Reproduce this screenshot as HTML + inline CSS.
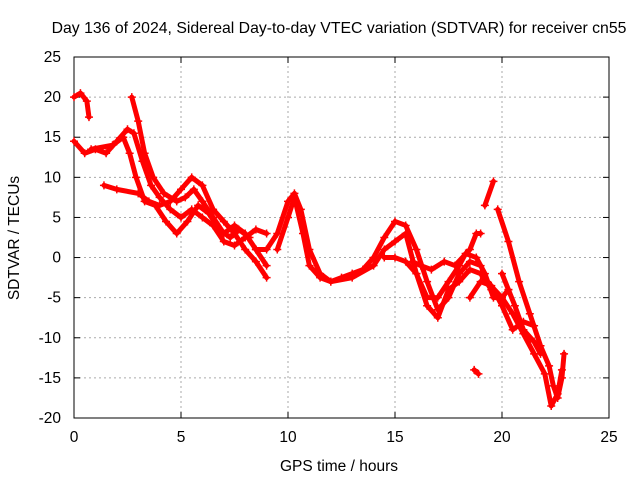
<!DOCTYPE html>
<html><head><meta charset="utf-8"><style>
body{margin:0;background:#fff;}
svg text{font-family:"Liberation Sans",sans-serif;font-size:15.5px;fill:#000;}
</style></head><body>
<svg width="640" height="480" xmlns="http://www.w3.org/2000/svg">
<rect width="640" height="480" fill="#fff"/>
<text x="339" y="33" text-anchor="middle" style="font-size:15.8px">Day 136 of 2024, Sidereal Day-to-day VTEC variation (SDTVAR) for receiver cn55</text>
<g id="grid"></g>
<g id="axes"></g>
<g id="series"></g>
<text x="339" y="471" text-anchor="middle">GPS time / hours</text>
<text transform="translate(19,238) rotate(-90)" text-anchor="middle">SDTVAR / TECUs</text>
</svg>
<script>
const xTicks=[0,5,10,15,20,25];
const yTicks=[-20,-15,-10,-5,0,5,10,15,20,25];
const trackA=[[0,14.5],[0.5,13],[1,13.5],[1.5,13],[2,14.5],[2.5,16],[2.8,15.5],[3.2,12],[3.6,9],[4,7.5],[4.5,6],[5,5],[5.5,6],[6,5],[6.5,4],[7,2],[7.5,1.5],[8,2.5],[8.5,3.5],[9,3]];
const trackB=[[1.4,9],[2,8.5],[3,8],[3.5,7],[4,6.5],[4.5,7],[5,8.5],[5.5,10],[6,9],[6.5,6],[7,4.5],[7.5,3],[8,1],[8.5,-0.5],[9,-2.5]];
const trackC=[[2.7,20],[3,17],[3.3,13],[3.7,10],[4.2,8],[4.8,7],[5.2,7.5],[5.6,8.5],[6,7],[6.5,5],[7,3],[7.5,4],[8,3],[8.5,1],[9,-1]];
const trackD=[[0.8,13.5],[1.8,14],[2.3,15],[2.6,13],[2.9,10],[3.3,7],[3.8,6.5],[4.3,4.5],[4.8,3],[5.3,4.5],[5.8,6.5],[6.3,5.5],[6.8,3.5],[7.3,2.5],[7.7,3.5],[8.2,2.5]];
const trackE=[[8.5,1],[9,1],[9.5,3],[10,7],[10.3,8],[10.6,6],[11,1],[11.5,-2],[12,-3],[12.5,-2.5],[13,-2],[13.5,-1.5],[14,0],[14.5,2.5],[15,4.5],[15.5,4],[16,1],[16.5,-3],[17,-6.5],[17.5,-5],[18,-2],[18.5,-0.5],[19,-1]];
const trackF=[[9.5,1],[10,5],[10.3,7.5],[10.7,3],[11,-1],[11.5,-2.5],[12,-3],[13,-2.5],[14,-1],[14.5,1],[15,2],[15.5,3],[16,-2],[16.5,-6],[17,-7.5],[17.5,-4],[18,-3],[18.5,-1.5],[19,-2],[19.5,-4]];
const trackG=[[14.5,0],[15,0],[15.5,-0.5],[16,-2],[16.5,-5],[17,-5],[17.5,-3],[18,-1],[18.3,0.5],[18.8,0],[19.2,-2],[19.6,-5],[20,-5],[20.3,-4]];
const trackH=[[15.8,-0.5],[16.2,-1],[16.7,-1.5],[17.3,-0.5],[17.8,-1],[18.5,1],[18.8,3],[19,3]];
const trackI=[[18.5,-5],[19,-3],[19.5,-3.5],[20,-6],[20.5,-9],[21,-8],[21.5,-8.5]];
const trackJ=[[19.8,6],[20.3,2],[20.8,-3],[21.3,-7],[21.8,-11],[22.2,-13.5],[22.4,-16],[22.6,-17.5],[22.8,-15],[22.9,-12]];
const trackK=[[19.3,-3],[20,-5],[20.5,-7],[21,-9.5],[21.5,-12],[22,-14.5],[22.3,-18.5],[22.6,-17],[22.8,-14]];
const trackL=[[18.7,-14],[18.9,-14.5]];
const trackM=[[20,-2],[20.3,-4],[20.6,-6],[21,-9],[21.5,-10.5],[21.8,-12]];
const trackN=[[0,20],[0.3,20.5],[0.6,19.5],[0.7,17.5]];
const trackO=[[19.2,6.5],[19.6,9.5]];
const tracks=[trackA,trackB,trackC,trackD,trackE,trackF,trackG,trackH,trackI,trackJ,trackK,trackL,trackM,trackN,trackO];
const X0=74,X1=609,Y0=418,Y1=57;
const xs=v=>X0+(v-0)/(25-0)*(X1-X0);
const ys=v=>Y0-(v+20)/45*(Y0-Y1);
const NS="http://www.w3.org/2000/svg";
const grid=document.getElementById('grid'),axes=document.getElementById('axes'),ser=document.getElementById('series');
function mk(t,a,p){const e=document.createElementNS(NS,t);for(const k in a)e.setAttribute(k,a[k]);p.appendChild(e);return e;}
xTicks.forEach(t=>{const x=xs(t);
 if(t>0&&t<25){const g=mk('line',{x1:x,x2:x,y1:Y0,y2:Y1,stroke:'#aaa','stroke-dasharray':'2,3','stroke-width':1},grid);
 
 }
 mk('line',{x1:x,x2:x,y1:Y0,y2:Y0-6,stroke:'#000'},axes);mk('line',{x1:x,x2:x,y1:Y1,y2:Y1+6,stroke:'#000'},axes);
 const tx=mk('text',{x:x,y:Y0+24,'text-anchor':'middle'},axes);tx.textContent=t;
 
 });
yTicks.forEach(t=>{const y=ys(t);
 if(t>-20&&t<25){const g=mk('line',{x1:X0,x2:X1,y1:y,y2:y,stroke:'#aaa','stroke-dasharray':'2,3','stroke-width':1},grid);
 
 }
 mk('line',{x1:X0,x2:X0+6,y1:y,y2:y,stroke:'#000'},axes);mk('line',{x1:X1,x2:X1-6,y1:y,y2:y,stroke:'#000'},axes);
 const tx=mk('text',{x:X0-13,y:y+5,'text-anchor':'end'},axes);tx.textContent=t;
 
 });
mk('rect',{x:X0,y:Y1,width:X1-X0,height:Y0-Y1,fill:'none',stroke:'#000'},axes);
tracks.forEach((tr,i)=>{
 const pl=mk('polyline',{points:tr.map(p=>xs(p[0])+','+ys(p[1])).join(' '),fill:'none',stroke:'#f00','stroke-width':5,'stroke-linejoin':'round','stroke-linecap':'round'},ser);
 
 
 tr.forEach(p=>{const x=xs(p[0]),y=ys(p[1]);
  const m=mk('path',{d:`M${x-4},${y}H${x+4}M${x},${y-4}V${y+4}`,stroke:'#f00','stroke-width':1.5},ser);
  
  });
});
</script>
</body></html>
